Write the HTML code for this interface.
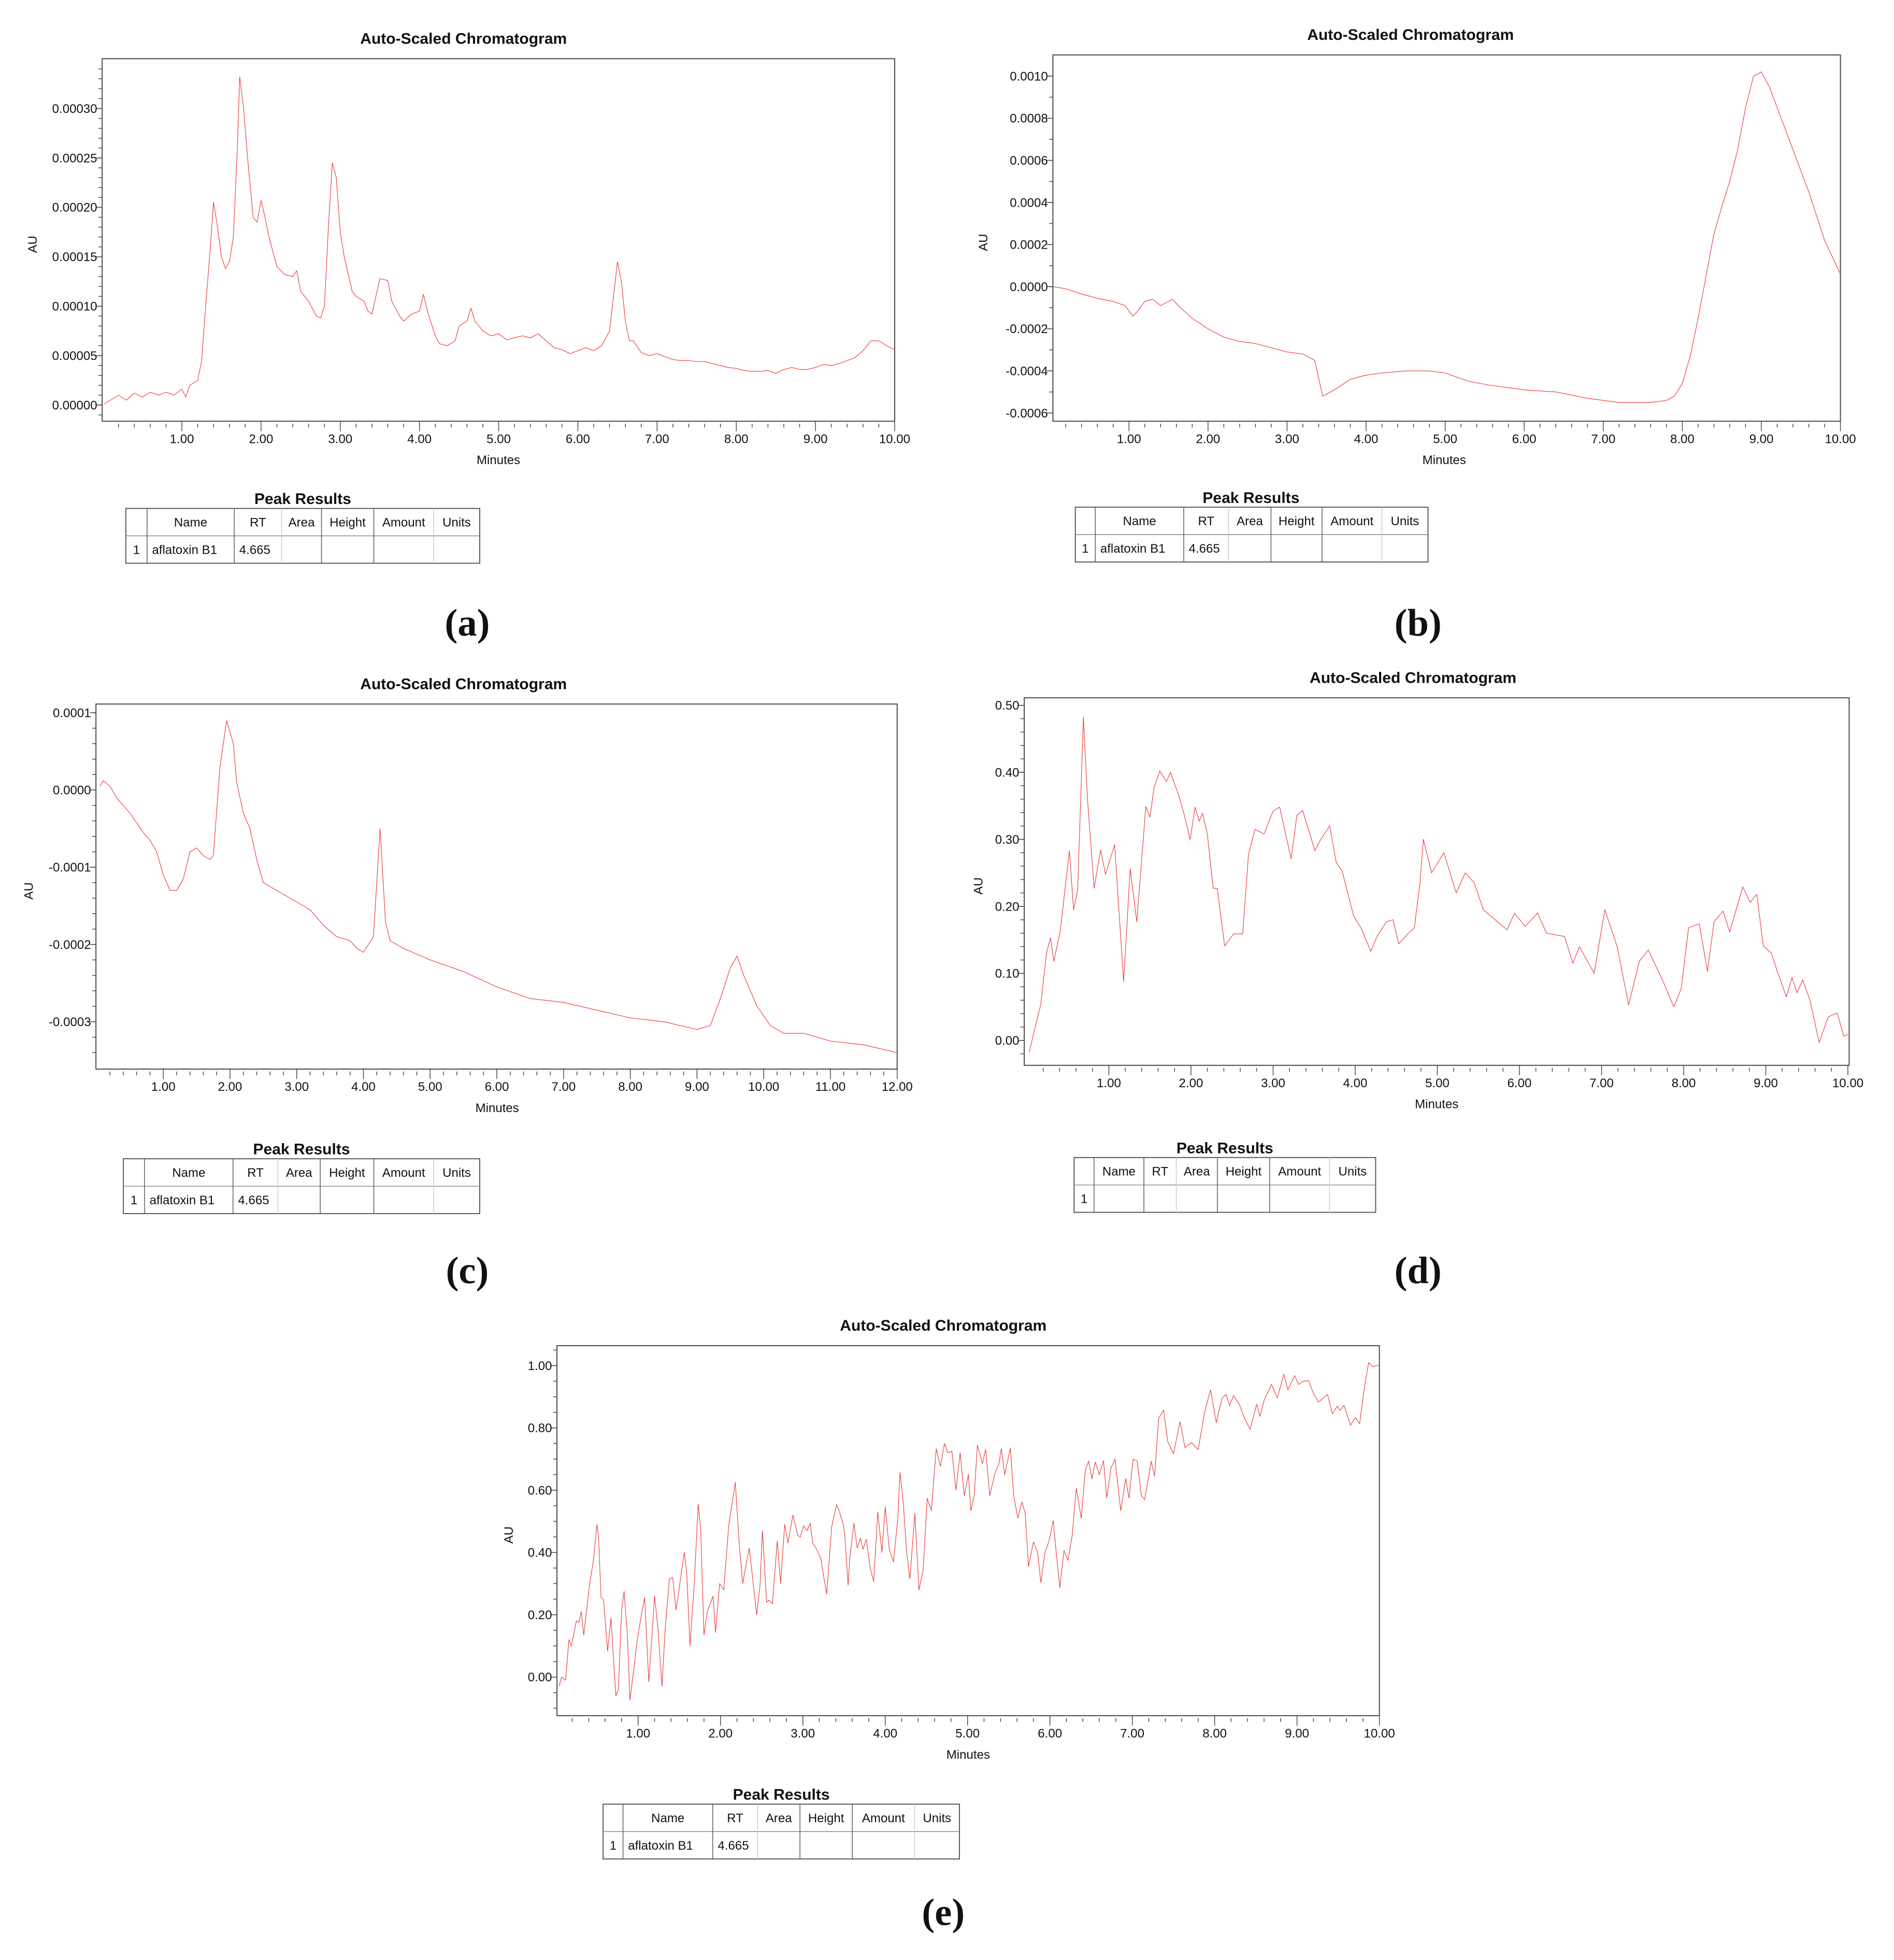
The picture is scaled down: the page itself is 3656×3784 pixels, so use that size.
<!DOCTYPE html>
<html><head><meta charset="utf-8"><title>Auto-Scaled Chromatograms</title>
<style>html,body{margin:0;padding:0;background:#fff}svg{display:block}</style></head>
<body>
<svg id="fig" xmlns="http://www.w3.org/2000/svg" width="3656" height="3784" viewBox="0 0 1520 1573" font-family="Liberation Sans, Arial, sans-serif"></svg>
<script>
// ---------- data ----------
const aTimes=[0.02,0.2,0.3,0.4,0.5,0.6,0.7,0.8,0.9,1.0,1.05,1.1,1.2,1.25,1.3,1.35,1.4,1.45,1.5,1.55,1.6,1.65,1.7,1.73,1.78,1.83,1.9,1.95,2.0,2.05,2.1,2.2,2.3,2.4,2.45,2.5,2.6,2.7,2.75,2.8,2.85,2.9,2.95,3.0,3.05,3.15,3.2,3.3,3.35,3.4,3.45,3.5,3.6,3.65,3.75,3.8,3.9,4.0,4.05,4.1,4.2,4.25,4.35,4.45,4.5,4.6,4.65,4.7,4.8,4.9,5.0,5.1,5.2,5.3,5.4,5.5,5.6,5.7,5.8,5.9,6.0,6.1,6.2,6.3,6.4,6.45,6.5,6.55,6.6,6.65,6.7,6.8,6.9,7.0,7.1,7.2,7.3,7.4,7.5,7.6,7.7,7.8,7.9,8.0,8.1,8.2,8.3,8.4,8.5,8.6,8.7,8.8,8.9,9.0,9.1,9.2,9.3,9.4,9.5,9.6,9.7,9.8,9.9,10.0];
const aValues=[0.1,1.0,0.5,1.2,0.8,1.3,1.0,1.3,1.0,1.6,0.8,2.0,2.5,4.5,10,15,20.5,18,15,13.8,14.5,17,26,33.2,30,25,19,18.5,20.7,19,17,14,13.2,13,13.6,11.5,10.5,9.0,8.8,10,18,24.5,23,17.5,15,11.5,11,10.5,9.5,9.2,11,12.8,12.6,10.5,9,8.5,9.2,9.5,11.2,9.5,7,6.2,6.0,6.5,8,8.5,9.8,8.5,7.5,7.0,7.2,6.6,6.8,7.0,6.8,7.2,6.5,5.8,5.6,5.2,5.5,5.8,5.5,6.0,7.5,11,14.5,12.5,8.5,6.5,6.5,5.3,5.0,5.2,4.9,4.6,4.5,4.5,4.4,4.4,4.2,4.0,3.8,3.7,3.5,3.4,3.4,3.5,3.2,3.6,3.8,3.6,3.6,3.8,4.1,4.0,4.2,4.5,4.8,5.5,6.5,6.5,6.0,5.6];
const aYTicks=[0,5,10,15,20,25,30];
const aYLabels=["0.00000","0.00005","0.00010","0.00015","0.00020","0.00025","0.00030"];

const bTimes=[0.0,0.2,0.4,0.6,0.8,0.95,1.05,1.1,1.2,1.3,1.4,1.5,1.55,1.65,1.8,2.0,2.2,2.4,2.6,2.8,3.0,3.2,3.35,3.45,3.6,3.8,4.0,4.2,4.5,4.8,5.0,5.3,5.6,6.0,6.4,6.8,7.2,7.6,7.8,7.9,8.0,8.1,8.2,8.3,8.4,8.5,8.6,8.7,8.8,8.9,9.0,9.1,9.2,9.4,9.6,9.8,10.0];
const bValues=[0.0,-0.1,-0.35,-0.55,-0.7,-0.9,-1.4,-1.2,-0.7,-0.6,-0.9,-0.7,-0.6,-1.0,-1.5,-2.0,-2.4,-2.6,-2.7,-2.9,-3.1,-3.2,-3.5,-5.2,-4.9,-4.4,-4.2,-4.1,-4.0,-4.0,-4.1,-4.5,-4.7,-4.9,-5.0,-5.3,-5.5,-5.5,-5.4,-5.2,-4.6,-3.3,-1.5,0.5,2.5,3.8,5.0,6.5,8.5,10.0,10.2,9.5,8.5,6.5,4.5,2.2,0.6];
const bYTicks=[-6,-4,-2,0,2,4,6,8,10];
const bYLabels=["-0.0006","-0.0004","-0.0002","0.0000","0.0002","0.0004","0.0006","0.0008","0.0010"];

const cTimes=[0.05,0.1,0.2,0.3,0.5,0.7,0.8,0.9,1.0,1.1,1.2,1.3,1.4,1.5,1.6,1.7,1.75,1.85,1.95,2.05,2.1,2.2,2.3,2.4,2.5,2.7,3.0,3.2,3.4,3.6,3.8,3.9,4.0,4.15,4.25,4.33,4.4,4.6,5.0,5.5,6.0,6.5,7.0,7.5,8.0,8.5,9.0,9.2,9.35,9.5,9.6,9.7,9.9,10.1,10.3,10.6,11.0,11.5,12.0];
const cValues=[0.05,0.12,0.05,-0.1,-0.3,-0.55,-0.65,-0.8,-1.1,-1.3,-1.3,-1.15,-0.8,-0.75,-0.85,-0.9,-0.85,0.3,0.9,0.6,0.1,-0.3,-0.5,-0.9,-1.2,-1.3,-1.45,-1.55,-1.75,-1.9,-1.95,-2.05,-2.1,-1.9,-0.5,-1.7,-1.95,-2.05,-2.2,-2.35,-2.55,-2.7,-2.75,-2.85,-2.95,-3.0,-3.1,-3.05,-2.7,-2.3,-2.15,-2.4,-2.8,-3.05,-3.15,-3.15,-3.25,-3.3,-3.4];
const cYTicks=[-3,-2,-1,0,1];
const cYLabels=["-0.0003","-0.0002","-0.0001","0.0000","0.0001"];

const dTimes=[0.03,0.11,0.17,0.24,0.29,0.33,0.41,0.47,0.52,0.57,0.62,0.69,0.74,0.82,0.90,0.96,1.07,1.18,1.26,1.34,1.45,1.50,1.55,1.62,1.70,1.75,1.85,1.92,1.99,2.05,2.10,2.14,2.20,2.27,2.32,2.41,2.52,2.63,2.70,2.78,2.89,3.00,3.08,3.22,3.29,3.36,3.51,3.58,3.69,3.77,3.84,3.98,4.07,4.19,4.27,4.38,4.46,4.53,4.64,4.72,4.79,4.83,4.93,5.08,5.23,5.34,5.45,5.56,5.85,5.94,6.07,6.22,6.33,6.55,6.65,6.73,6.91,7.04,7.19,7.33,7.46,7.57,7.76,7.88,7.97,8.06,8.19,8.29,8.37,8.48,8.56,8.72,8.81,8.89,8.97,9.07,9.14,9.25,9.32,9.38,9.45,9.54,9.65,9.76,9.87,9.95,10.0];
const dValues=[-0.018,0.024,0.053,0.13,0.153,0.118,0.165,0.23,0.283,0.195,0.224,0.482,0.36,0.227,0.284,0.248,0.292,0.088,0.256,0.177,0.349,0.333,0.377,0.402,0.386,0.40,0.366,0.336,0.30,0.348,0.327,0.339,0.307,0.227,0.227,0.141,0.159,0.159,0.277,0.315,0.308,0.342,0.348,0.271,0.336,0.343,0.283,0.30,0.32,0.265,0.253,0.186,0.168,0.133,0.156,0.177,0.18,0.144,0.159,0.168,0.236,0.30,0.25,0.28,0.22,0.25,0.235,0.195,0.165,0.19,0.17,0.19,0.16,0.155,0.115,0.14,0.10,0.195,0.14,0.053,0.118,0.135,0.085,0.05,0.077,0.168,0.174,0.103,0.177,0.193,0.162,0.229,0.206,0.218,0.141,0.13,0.103,0.065,0.094,0.071,0.09,0.059,-0.003,0.035,0.041,0.006,0.009];
const dYTicks=[0,0.1,0.2,0.3,0.4,0.5];
const dYLabels=["0.00","0.10","0.20","0.30","0.40","0.50"];

const eTimes=[0.04,0.07,0.12,0.16,0.19,0.25,0.28,0.31,0.34,0.41,0.46,0.50,0.52,0.55,0.58,0.63,0.67,0.73,0.76,0.80,0.83,0.87,0.90,0.95,0.99,1.04,1.08,1.13,1.20,1.24,1.29,1.33,1.38,1.42,1.46,1.50,1.56,1.59,1.63,1.68,1.73,1.76,1.80,1.84,1.91,1.94,1.99,2.04,2.10,2.18,2.23,2.27,2.31,2.35,2.40,2.44,2.48,2.51,2.56,2.59,2.63,2.69,2.73,2.78,2.82,2.88,2.94,2.97,3.01,3.05,3.09,3.12,3.16,3.22,3.25,3.29,3.35,3.41,3.45,3.49,3.51,3.55,3.57,3.62,3.66,3.70,3.73,3.77,3.82,3.86,3.91,3.96,4.00,4.05,4.10,4.15,4.18,4.22,4.26,4.30,4.36,4.41,4.46,4.51,4.56,4.62,4.67,4.72,4.76,4.81,4.86,4.91,4.96,5.01,5.04,5.08,5.12,5.18,5.22,5.27,5.33,5.38,5.41,5.45,5.52,5.56,5.61,5.66,5.70,5.74,5.80,5.85,5.89,5.94,5.99,6.04,6.08,6.12,6.17,6.22,6.27,6.32,6.38,6.43,6.47,6.51,6.55,6.60,6.65,6.69,6.74,6.79,6.86,6.92,6.96,7.01,7.06,7.11,7.15,7.20,7.23,7.27,7.32,7.38,7.43,7.50,7.58,7.64,7.72,7.80,7.88,7.95,8.02,8.09,8.14,8.18,8.23,8.30,8.36,8.43,8.51,8.55,8.60,8.69,8.76,8.84,8.89,8.97,9.02,9.06,9.14,9.20,9.26,9.37,9.43,9.49,9.52,9.57,9.65,9.71,9.76,9.82,9.87,9.92,9.99];
const eValues=[-0.03,0.0,-0.01,0.12,0.10,0.18,0.175,0.21,0.135,0.295,0.38,0.49,0.45,0.255,0.25,0.084,0.19,-0.06,-0.04,0.215,0.275,0.135,-0.075,0.03,0.12,0.20,0.255,-0.016,0.26,0.16,-0.03,0.16,0.315,0.32,0.215,0.287,0.40,0.335,0.10,0.295,0.556,0.47,0.135,0.21,0.26,0.143,0.30,0.28,0.486,0.625,0.42,0.30,0.36,0.414,0.295,0.20,0.295,0.47,0.24,0.247,0.235,0.437,0.30,0.49,0.43,0.52,0.454,0.45,0.486,0.47,0.494,0.43,0.414,0.38,0.327,0.267,0.482,0.554,0.526,0.49,0.454,0.295,0.38,0.494,0.414,0.446,0.41,0.442,0.347,0.307,0.53,0.40,0.546,0.41,0.37,0.50,0.657,0.558,0.40,0.315,0.526,0.28,0.343,0.574,0.534,0.733,0.677,0.75,0.72,0.725,0.60,0.72,0.582,0.65,0.534,0.582,0.745,0.685,0.731,0.582,0.653,0.685,0.733,0.65,0.735,0.582,0.51,0.562,0.526,0.355,0.434,0.40,0.303,0.40,0.438,0.502,0.39,0.287,0.406,0.375,0.454,0.606,0.51,0.665,0.693,0.636,0.69,0.65,0.695,0.575,0.67,0.70,0.534,0.637,0.574,0.70,0.693,0.582,0.57,0.645,0.693,0.645,0.83,0.857,0.757,0.717,0.82,0.737,0.753,0.73,0.853,0.922,0.817,0.896,0.907,0.872,0.904,0.875,0.833,0.795,0.876,0.837,0.888,0.94,0.896,0.972,0.922,0.968,0.939,0.948,0.952,0.91,0.883,0.907,0.845,0.87,0.856,0.872,0.809,0.833,0.813,0.932,1.01,0.996,1.002];
const eYTicks=[0,0.2,0.4,0.6,0.8,1.0];
const eYLabels=["0.00","0.20","0.40","0.60","0.80","1.00"];

const xTicks10=[1,2,3,4,5,6,7,8,9,10];
const xLabels10=["1.00","2.00","3.00","4.00","5.00","6.00","7.00","8.00","9.00","10.00"];
const xTicks12=[1,2,3,4,5,6,7,8,9,10,11,12];
const xLabels12=["1.00","2.00","3.00","4.00","5.00","6.00","7.00","8.00","9.00","10.00","11.00","12.00"];

const tableHeaders=["","Name","RT","Area","Height","Amount","Units"];
const tableRowFull=["1","aflatoxin B1","4.665","","","",""];
const tableRowEmpty=["1","","","","","",""];

// ---------- layout ----------
const panels=[
 {id:'a',x0:82,x1:718,y0:47,y1:338,xr:[0,82.4,10,718],yr:[0,325,30,87],tmax:10,ymin:-2,ymax:36,minorY:1,titleX:372,
  times:aTimes,vals:aValues,yt:aYTicks,yl:aYLabels,xt:xTicks10,xl:xLabels10,auX:26,mx:400,
  tab:{cols:[101,118,188,226,258,300,348,385],top:408,titleX:243,titleY:400},row:tableRowFull,letter:[375,500]},
 {id:'b',x0:845,x1:1477,y0:44,y1:338,xr:[0,842.6,10,1477],yr:[0,230,10,61],tmax:10,ymin:-7,ymax:12,minorY:1,titleX:1132,
  times:bTimes,vals:bValues,yt:bYTicks,yl:bYLabels,xt:xTicks10,xl:xLabels10,auX:789,mx:1159,
  tab:{cols:[863,879,950,986,1020,1061,1109,1146],top:407,titleX:1004,titleY:399},row:tableRowFull,letter:[1138,500]},
 {id:'c',x0:77,x1:720,y0:565,y1:858,xr:[0,77.5,12,720],yr:[0,634,1,572],tmax:12,ymin:-3.6,ymax:1.2,minorY:0.2,titleX:372,
  times:cTimes,vals:cValues,yt:cYTicks,yl:cYLabels,xt:xTicks12,xl:xLabels12,auX:23,mx:399,
  tab:{cols:[99,116,187,223,257,300,348,385],top:930,titleX:242,titleY:922},row:tableRowFull,letter:[375,1020]},
 {id:'d',x0:822,x1:1484,y0:560,y1:855,xr:[0,824,10,1483],yr:[0,835,0.5,566],tmax:10,ymin:-0.04,ymax:0.51,minorY:0.02,titleX:1134,
  times:dTimes,vals:dValues,yt:dYTicks,yl:dYLabels,xt:xTicks10,xl:xLabels10,auX:785,mx:1153,
  tab:{cols:[862,878,918,944,977,1019,1067,1104],top:929,titleX:983,titleY:921},row:tableRowEmpty,letter:[1138,1020]},
 {id:'e',x0:447,x1:1107,y0:1080,y1:1377,xr:[0,446,10,1107],yr:[0,1346,1,1096],tmax:10,ymin:-0.1,ymax:1.05,minorY:0.05,titleX:757,
  times:eTimes,vals:eValues,yt:eYTicks,yl:eYLabels,xt:xTicks10,xl:xLabels10,auX:408,mx:777,
  tab:{cols:[484,500,572,608,642,684,734,770],top:1448,titleX:627,titleY:1440},row:tableRowFull,letter:[757,1535]}
];

const NS="http://www.w3.org/2000/svg";
const svg=document.getElementById('fig');
function mk(tag,attrs,parent){const e=document.createElementNS(NS,tag);for(const k in attrs)e.setAttribute(k,attrs[k]);parent.appendChild(e);return e;}
function lin(r){return v=>r[1]+(v-r[0])*(r[3]-r[1])/(r[2]-r[0]);}

panels.forEach(p=>{
  const sx=lin(p.xr), sy=lin(p.yr);
  const g=mk('g',{},svg);
  
  

  const title=mk('text',{x:p.titleX,y:p.y0-12,'text-anchor':'middle','font-size':12.5,'font-weight':'bold',fill:'#111'},g);
  title.textContent='Auto-Scaled Chromatogram';
  
  

  const frame=mk('rect',{x:p.x0,y:p.y0,width:p.x1-p.x0,height:p.y1-p.y0,fill:'none',stroke:'#444','stroke-width':0.8},g);
  
  

  const yg=mk('g',{stroke:'#444','stroke-width':0.6},g);
  
  
  const n0=Math.ceil(p.ymin/p.minorY-1e-6), n1=Math.floor(p.ymax/p.minorY+1e-6);
  for(let i=n0;i<=n1;i++){
    const yy=sy(i*p.minorY);
    if(yy<p.y0+1||yy>p.y1-1)continue;
    const t=mk('line',{x1:p.x0-3,x2:p.x0,y1:yy,y2:yy},yg);
    
    
  }
  p.yt.forEach((v,i)=>{
    const yy=sy(v);
    const t=mk('line',{x1:p.x0-5,x2:p.x0,y1:yy,y2:yy,stroke:'#444','stroke-width':0.6},g);
    
    
    const l=mk('text',{x:p.x0-4,y:yy+3.5,'text-anchor':'end','font-size':10,fill:'#111'},g);
    l.textContent=p.yl[i];
    
    
  });

  const xg=mk('g',{stroke:'#444','stroke-width':0.6},g);
  
  
  const nm=Math.round(p.tmax/0.2);
  for(let i=1;i<=nm;i++){
    if(i%5===0)continue;
    const xx=sx(i*0.2);
    const t=mk('line',{x1:xx,x2:xx,y1:p.y1+2,y2:p.y1+5},xg);
    
    
  }
  p.xt.forEach((v,i)=>{
    const xx=sx(v);
    const t=mk('line',{x1:xx,x2:xx,y1:p.y1,y2:p.y1+8,stroke:'#444','stroke-width':0.6},g);
    
    
    const l=mk('text',{x:xx,y:p.y1+17.5,'text-anchor':'middle','font-size':10,fill:'#111'},g);
    l.textContent=p.xl[i];
    
    
  });

  const xt=mk('text',{x:p.mx,y:p.y1+34.5,'text-anchor':'middle','font-size':10,fill:'#111'},g);
  xt.textContent='Minutes';
  
  
  const ym=(p.y0+p.y1)/2;
  const yt=mk('text',{x:p.auX,y:ym,'text-anchor':'middle','font-size':10,fill:'#111',transform:'rotate(-90 '+(p.auX+3.5)+' '+ym+')'},g);
  yt.textContent='AU';
  
  

  let d='';
  p.times.forEach((t,i)=>{
    let xx=Math.max(p.x0,Math.min(p.x1,sx(t)));
    d+=(i?'L':'M')+xx.toFixed(2)+' '+sy(p.vals[i]).toFixed(2);
  });
  const line=mk('path',{d:d,fill:'none',stroke:'#e8302c','stroke-width':0.45,'stroke-linejoin':'round'},g);
  
  

  const tb=p.tab;
  const tg=mk('g',{},g);
  
  
  const tt=mk('text',{x:tb.titleX,y:tb.titleY+4.5,'text-anchor':'middle','font-size':12.5,'font-weight':'bold',fill:'#111'},tg);
  tt.textContent='Peak Results';
  
  
  const c=tb.cols, top=tb.top, bot=top+44;
  const box=mk('rect',{x:c[0],y:top,width:c[7]-c[0],height:44,fill:'none',stroke:'#555','stroke-width':0.8},tg);
  
  
  const hl=mk('line',{x1:c[0],x2:c[7],y1:top+22,y2:top+22,stroke:'#888','stroke-width':0.6},tg);
  
  
  for(let i=1;i<7;i++){
    const light=(i===3||i===6);
    const vl=mk('line',{x1:c[i],x2:c[i],y1:top,y2:bot,stroke:light?'#ccc':'#555','stroke-width':0.6},tg);
    
    
  }
  tableHeaders.forEach((h,i)=>{
    if(!h)return;
    const ht=mk('text',{x:(c[i]+c[i+1])/2,y:top+14.5,'text-anchor':'middle','font-size':10,fill:'#111'},tg);
    ht.textContent=h;
    
    
  });
  p.row.forEach((v,i)=>{
    if(!v)return;
    const dt=mk('text',{x:i===0?(c[0]+c[1])/2:c[i]+4,y:top+36.5,'text-anchor':i===0?'middle':'start','font-size':10,fill:'#111'},tg);
    dt.textContent=v;
    
    
  });

  const lt=mk('text',{x:p.letter[0],y:p.letter[1]+10,'text-anchor':'middle','font-size':31,'font-family':'Liberation Serif, serif','font-weight':'bold',fill:'#111'},g);
  lt.textContent='('+p.id+')';
  
  
});
</script>
</body></html>
